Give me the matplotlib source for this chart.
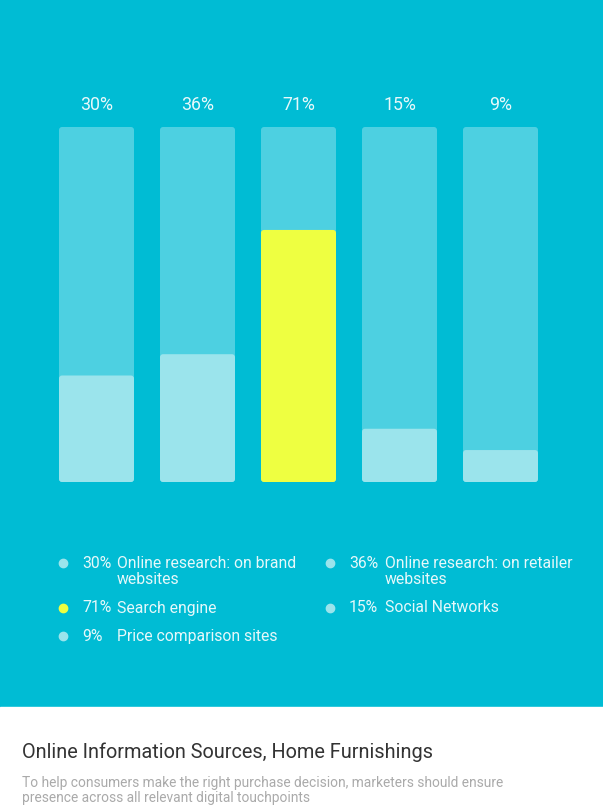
import matplotlib
matplotlib.use("Agg")
import matplotlib.pyplot as plt
from matplotlib.patches import FancyBboxPatch, Rectangle

plt.rcParams["font.family"] = ["Roboto", "DejaVu Sans"]

# data
values = [30, 36, 71, 15, 9]
labels = ["Online research: on brand\nwebsites", "Online research: on retailer\nwebsites",
          "Search engine", "Social Networks", "Price comparison sites"]
highlight = 2
title = "Online Information Sources, Home Furnishings"
subtitle = ("To help consumers make the right purchase decision, marketers should ensure\n"
            "presence across all relevant digital touchpoints")

BG = "#00BCD4"; TRACK = "#4DD0E1"; FILL = "#9BE4EC"; HI = "#EEFF41"; TXT = "#E6F8FA"

W, H = 603, 809
fig = plt.figure(figsize=(W / 100, H / 100), dpi=100, facecolor=BG)

# overlay axes in pixel coordinates for background / legend / titles
ov = fig.add_axes([0, 0, 1, 1])
ov.set_xlim(0, W); ov.set_ylim(H, 0); ov.axis("off")
ov.add_patch(Rectangle((0, 707), W, H - 707, color="white", zorder=0))

# bar axes: track area
bw = 75 / 101
ax = fig.add_axes([59 / W, 1 - 482 / H, 479 / W, 355 / H])
ax.set_xlim(-bw / 2, len(values) - 1 + bw / 2); ax.set_ylim(0, 100); ax.axis("off")
ax.patch.set_alpha(0)
px_x = 101.0; px_y = 3.55
asp = px_x / px_y
r = 3 / px_x

def rbar(x, h, color):
    p = FancyBboxPatch((x - bw / 2, 0), bw, h, boxstyle=f"round,pad=0,rounding_size={r}",
                       mutation_aspect=asp, fc=color, ec="none")
    ax.add_patch(p)

for i, v in enumerate(values):
    rbar(i, 100, TRACK)
    rbar(i, v, HI if i == highlight else FILL)
    ax.annotate(f"{v}%", (i, 100), xytext=(0, 22), textcoords="offset pixels",
                ha="center", va="center", color=TXT, fontsize=12.8)

# legend: two columns, rows top to bottom
cols = [(63, 82, 117), (330, 349, 385)]
y = 563
for row in range(0, len(values), 2):
    nlines = 1
    for c in range(2):
        i = row + c
        if i >= len(values):
            break
        dx, px, tx = cols[c]
        ov.scatter([dx], [y], s=36, color=HI if i == highlight else FILL, zorder=3)
        ov.text(px, y - 7, f"{values[i]}%", color=TXT, fontsize=11.3, va="top")
        ov.text(tx, y - 7, labels[i], color=TXT, fontsize=11.3, va="top", linespacing=1.12)
        nlines = max(nlines, labels[i].count("\n") + 1)
    y += 16 * (nlines - 1) + 28.5

ov.text(22, 752, title, color="#333333", fontsize=14.3, va="center")
ov.text(22, 776, subtitle, color="#AAAAAA", fontsize=9.9, va="top", linespacing=1.12)

fig.savefig("out.png", dpi=100, facecolor=BG)
